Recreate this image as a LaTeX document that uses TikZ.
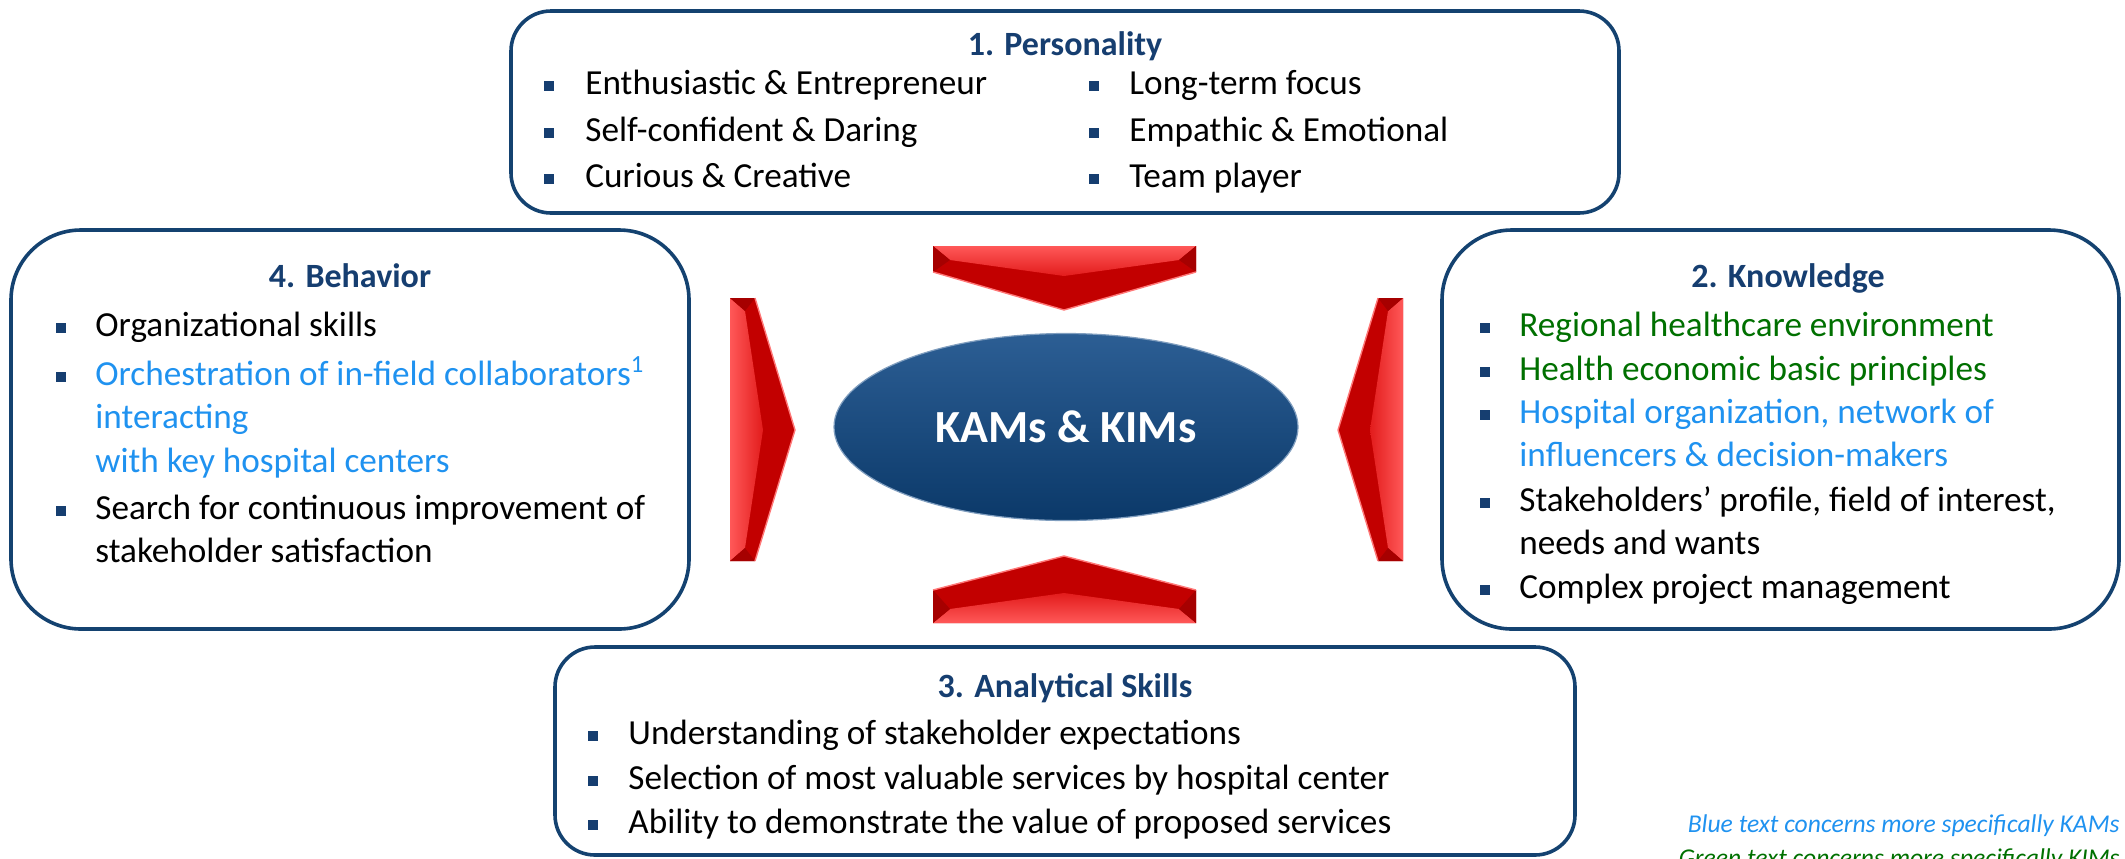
\documentclass[tikz,border=0pt]{standalone}
\usepackage{fontspec}
\setmainfont{Carlito}
\usetikzlibrary{shapes.geometric}
\definecolor{navy}{RGB}{22,62,112}
\definecolor{frame}{RGB}{20,66,112}
\definecolor{kamblue}{RGB}{31,146,240}
\definecolor{kimgreen}{RGB}{0,112,0}
\definecolor{redlight}{RGB}{255,88,88}
\definecolor{redmid}{RGB}{226,28,28}
\definecolor{reddark}{RGB}{194,0,0}
\definecolor{reddeep}{RGB}{166,0,0}
\definecolor{redhl}{RGB}{255,120,120}
\definecolor{ellitop}{RGB}{44,94,148}
\definecolor{ellimid}{RGB}{17,67,117}
\definecolor{ellibot}{RGB}{11,57,105}
\begin{document}
\begin{tikzpicture}[x=0.5pt,y=-0.5pt,
  panel/.style={draw=frame, line width=1.8pt, fill=white, inner sep=0pt},
  ttl/.style={font=\fontsize{17}{20}\selectfont\bfseries, text=navy, anchor=base, inner sep=0pt},
  itm/.style={font=\fontsize{17.6}{20}\selectfont, anchor=base west, inner sep=0pt},
  bul/.style={fill=navy, minimum size=4.6pt, inner sep=0pt, draw=none, rectangle},
  kam/.style={text=kamblue},
  kim/.style={text=kimgreen},
  legend/.style={font=\fontsize{12.8}{15}\selectfont\itshape, anchor=base east, inner sep=0pt},
  face/.style={fill=reddark, draw=none},
  facet/.style={fill=reddeep, draw=none},
  shine/.style={draw=redhl, line width=0.7pt, line join=round}]
\useasboundingbox (0,0) rectangle (2125,858);

% panels
\node[panel, rounded corners=20pt, minimum width=554pt, minimum height=101pt] (p1) at (1065,112) {};
\node[panel, rounded corners=35pt, minimum width=339pt, minimum height=199.5pt] (p4) at (350,429.5) {};
\node[panel, rounded corners=35pt, minimum width=338.5pt, minimum height=199.5pt] (p2) at (1780.5,429.5) {};
\node[panel, rounded corners=20pt, minimum width=510pt, minimum height=104pt] (p3) at (1065,751) {};

% top arrow
\fill[face] (933,246) -- (1196,246) -- (1196,272) -- (1064,310) -- (933,272) -- cycle;
\shade[top color=redlight, bottom color=redmid] (933,246) -- (1196,246) -- (1179,260) -- (1064,276) -- (950,260) -- cycle;
\fill[facet] (933,246) -- (950,260) -- (933,272) -- cycle;
\fill[facet] (1196,246) -- (1179,260) -- (1196,272) -- cycle;
\draw[shine] (933,272) -- (1064,310) -- (1196,272);
% bottom arrow
\fill[face] (933,623) -- (1196,623) -- (1196,590) -- (1064,556) -- (933,590) -- cycle;
\shade[bottom color=redlight, top color=redmid] (933,623) -- (1196,623) -- (1179,609) -- (1064,593) -- (950,609) -- cycle;
\fill[facet] (933,623) -- (950,609) -- (933,590) -- cycle;
\fill[facet] (1196,623) -- (1179,609) -- (1196,590) -- cycle;
\draw[shine] (933,590) -- (1064,556) -- (1196,590);
% left arrow
\fill[face] (730,298) -- (755,298) -- (795,430) -- (755,561) -- (730,561) -- cycle;
\shade[left color=redlight, right color=redmid] (730,298) -- (745,311) -- (763,430) -- (745,548) -- (730,561) -- cycle;
\fill[facet] (730,298) -- (755,298) -- (745,311) -- cycle;
\fill[facet] (730,561) -- (755,561) -- (745,548) -- cycle;
\draw[shine] (755,298) -- (795,430) -- (755,561);
% right arrow
\fill[face] (1403,298) -- (1378,298) -- (1338,430) -- (1378,561) -- (1403,561) -- cycle;
\shade[right color=redlight, left color=redmid] (1403,298) -- (1388,311) -- (1370,430) -- (1388,548) -- (1403,561) -- cycle;
\fill[facet] (1403,298) -- (1378,298) -- (1388,311) -- cycle;
\fill[facet] (1403,561) -- (1378,561) -- (1388,548) -- cycle;
\draw[shine] (1378,298) -- (1338,430) -- (1378,561);

% centre
\node[ellipse, minimum width=232pt, minimum height=93.5pt, top color=ellitop, middle color=ellimid, bottom color=ellibot, draw=ellitop!60!white, line width=0.6pt,
  text=white, font=\fontsize{23}{26}\selectfont\bfseries] (core) at (1066,427) {KAMs \& KIMs};

% 1. Personality
\node[ttl] (t1) at (1065,55) {1. Personality};
\node[bul] (b11) at (549,86) {};
\node[itm] (i11) at (585,94) {Enthusiastic \& Entrepreneur};
\node[bul] (b12) at (549,133) {};
\node[itm] (i12) at (585,141) {Self-confident \& Daring};
\node[bul] (b13) at (549,179) {};
\node[itm] (i13) at (585,187) {Curious \& Creative};
\node[bul] (b14) at (1094,86) {};
\node[itm] (i14) at (1129,94) {Long-term focus};
\node[bul] (b15) at (1094,133) {};
\node[itm] (i15) at (1129,141) {Empathic \& Emotional};
\node[bul] (b16) at (1094,179) {};
\node[itm] (i16) at (1129,187) {Team player};

% 4. Behavior
\node[ttl] (t4) at (350,287) {4. Behavior};
\node[bul] (b41) at (61,328) {};
\node[itm] (i41) at (95,336) {Organizational skills};
\node[bul] (b42) at (61,377) {};
\node[itm, kam] (i42) at (95,385) {Orchestration of in-field collaborators\textsuperscript{1}};
\node[itm, kam] (i43) at (95,428) {interacting};
\node[itm, kam] (i44) at (95,472) {with key hospital centers};
\node[bul] (b45) at (61,511) {};
\node[itm] (i45) at (95,519) {Search for continuous improvement of};
\node[itm] (i46) at (95,562) {stakeholder satisfaction};

% 2. Knowledge
\node[ttl] (t2) at (1788,287) {2. Knowledge};
\node[bul] (b21) at (1485,328) {};
\node[itm, kim] (i21) at (1519,336) {Regional healthcare environment};
\node[bul] (b22) at (1485,372) {};
\node[itm, kim] (i22) at (1519,380) {Health economic basic principles};
\node[bul] (b23) at (1485,415) {};
\node[itm, kam] (i23) at (1519,423) {Hospital organization, network of};
\node[itm, kam] (i24) at (1519,466) {influencers \& decision-makers};
\node[bul] (b25) at (1485,503) {};
\node[itm] (i25) at (1519,511) {Stakeholders’ profile, field of interest,};
\node[itm] (i26) at (1519,554) {needs and wants};
\node[bul] (b27) at (1485,590) {};
\node[itm] (i27) at (1519,598) {Complex project management};

% 3. Analytical Skills
\node[ttl] (t3) at (1065,697) {3. Analytical Skills};
\node[bul] (b31) at (593,736) {};
\node[itm] (i31) at (628,744) {Understanding of stakeholder expectations};
\node[bul] (b32) at (593,781) {};
\node[itm] (i32) at (628,789) {Selection of most valuable services by hospital center};
\node[bul] (b33) at (593,825) {};
\node[itm] (i33) at (628,833) {Ability to demonstrate the value of proposed services};

% legend
\node[legend, kam] (l1) at (2120,832) {Blue text concerns more specifically KAMs};
\node[legend, kim] (l2) at (2120,866) {Green text concerns more specifically KIMs};
\end{tikzpicture}
\end{document}
